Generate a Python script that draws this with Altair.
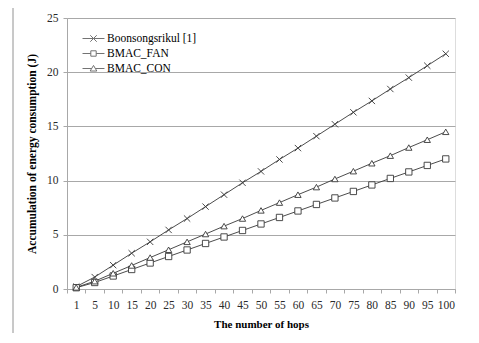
import altair as alt
import pandas as pd

hops = ["1", "5", "10", "15", "20", "25", "30", "35", "40", "45", "50",
        "55", "60", "65", "70", "75", "80", "85", "90", "95", "100"]
series_names = ["Boonsongsrikul [1]", "BMAC_FAN", "BMAC_CON"]
boonsongsrikul = [0.22, 1.1, 2.2, 3.3, 4.35, 5.45, 6.5, 7.6, 8.7, 9.8, 10.85,
                  11.95, 13.0, 14.1, 15.2, 16.3, 17.35, 18.45, 19.5, 20.6, 21.7]
bmac_fan = [0.12, 0.6, 1.2, 1.8, 2.4, 3.0, 3.6, 4.2, 4.8, 5.4, 6.0,
            6.6, 7.2, 7.8, 8.4, 9.0, 9.6, 10.2, 10.8, 11.4, 12.0]
bmac_con = [0.15, 0.72, 1.45, 2.17, 2.9, 3.62, 4.35, 5.07, 5.8, 6.5, 7.25,
            7.97, 8.7, 9.4, 10.15, 10.87, 11.6, 12.3, 13.05, 13.77, 14.5]
y_ticks = [0, 5, 10, 15, 20, 25]

rows = []
for name, vals in zip(series_names, [boonsongsrikul, bmac_fan, bmac_con]):
    for h, v in zip(hops, vals):
        rows.append({"hops": h, "energy": v, "series": name})
df = pd.DataFrame(rows)

FONT = "Liberation Serif"
INK = "#383838"
GRID = "#a8a8a8"

x_enc = alt.X("hops:O", sort=hops,
              scale=alt.Scale(paddingInner=0, paddingOuter=0),
              axis=alt.Axis(title="The number of hops", labelAngle=0,
                            tickBand="extent", grid=False,
                            labelFont=FONT, labelFontSize=11.5, labelColor="#2a2a2a",
                            labelPadding=6, tickSize=4, tickColor=GRID,
                            domainColor=GRID, titleFont=FONT, titleFontSize=11,
                            titleFontWeight="bold", titleColor="black",
                            titlePadding=8))
y_enc = alt.Y("energy:Q", scale=alt.Scale(domain=[0, 25], nice=False),
              axis=alt.Axis(title="Accumulation of energy consumption (J)",
                            values=y_ticks, grid=True, gridColor=GRID,
                            domainColor=GRID, tickColor=GRID, tickSize=4,
                            labelFont=FONT, labelFontSize=11.5, labelColor="#2a2a2a",
                            labelPadding=5, titleFont=FONT, titleFontSize=11.5,
                            titleFontWeight="bold", titleColor="black",
                            titlePadding=9))

xpath = "M-1,-1L1,1M-1,1L1,-1"

lines = alt.Chart(df).mark_line(color=INK, strokeWidth=0.9).encode(
    x=x_enc, y=y_enc, detail="series:N")

points = alt.Chart(df).mark_point(filled=True, fill="white", stroke=INK,
                                  strokeWidth=0.9, size=40, opacity=1).encode(
    x=alt.X("hops:O", sort=hops),
    y="energy:Q",
    shape=alt.Shape("series:N", legend=None,
                    scale=alt.Scale(domain=series_names,
                                    range=[xpath, "square", "triangle-up"])))

leg_paths = [
    "M-1.22,0L1.22,0M-0.36,-0.36L0.36,0.36M-0.36,0.36L0.36,-0.36",
    "M-1.22,0L-0.3,0M0.3,0L1.22,0M-0.3,-0.3L0.3,-0.3L0.3,0.3L-0.3,0.3Z",
    "M-1.22,0L-0.2,0M0.2,0L1.22,0M0,-0.34L0.37,0.28L-0.37,0.28Z",
]
legend_layer = alt.Chart(df).transform_filter("false").mark_point(
    filled=False, stroke=INK, strokeWidth=1, size=324).encode(
    x=alt.X("hops:O", sort=hops),
    y="energy:Q",
    shape=alt.Shape("series:N",
                    scale=alt.Scale(domain=series_names, range=leg_paths),
                    legend=alt.Legend(title=None, orient="none", legendX=17,
                                      legendY=11, padding=0, rowPadding=0,
                                      symbolSize=324, symbolStrokeWidth=1,
                                      symbolStrokeColor=INK, labelFont=FONT,
                                      labelFontSize=11.5, labelColor="black",
                                      labelOffset=4)))

frame = alt.Chart(df).mark_rule(color="#c8c8c8", strokeWidth=1).encode(
    x=alt.value(-54), y=alt.value(-10), y2=alt.value(315))

chart = alt.layer(frame, lines, points, legend_layer).resolve_scale(
    shape="independent"
).properties(
    width=388, height=271,
    autosize=alt.AutoSizeParams(type="none"),
    padding={"left": 59, "top": 10, "right": 10, "bottom": 44},
).configure_view(stroke=None).configure(
    background="white", font=FONT
).configure_legend(labelFont=FONT, labelFontSize=11.5, labelColor="black")

chart.save("out.html", embed_options={"renderer": "svg", "actions": False})
